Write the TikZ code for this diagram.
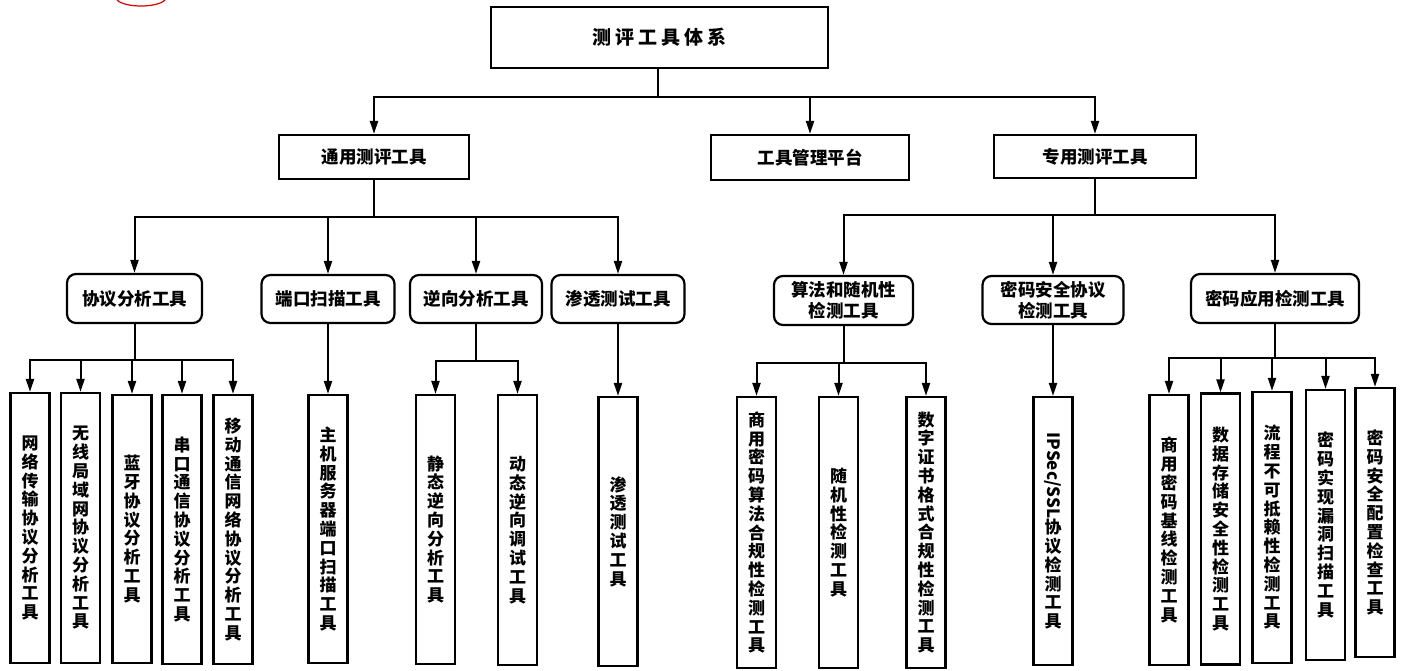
\documentclass[tikz,border=0pt]{standalone}
\usepackage{fontspec}
\usepackage{graphicx}
\newfontfamily\cjk{Noto Sans CJK SC}
\usetikzlibrary{arrows.meta}
\begin{document}
\begin{tikzpicture}[x=1pt,y=-1pt,
  box/.style={draw, line width=2.2pt, inner sep=0pt, font=\cjk\bfseries\fontsize{17.5}{21}\selectfont, align=center},
  rbox/.style={box, rounded corners=9pt},
  leaf/.style={draw, line width=2.2pt, inner sep=0pt, minimum width=39pt, font=\cjk\bfseries\fontsize{17}{18.8}\selectfont, align=center},
  arr/.style={-{Triangle[length=13pt,width=8pt]}, line width=2pt},
  ln/.style={line width=2pt}
]
\useasboundingbox (0,0) rectangle (1407,670);
\draw[red!85!black, line width=1.2pt] (117,0) .. controls (125,8) and (157,8) .. (165,0);

% level 0 and 1
\node[box, minimum width=337pt, minimum height=61pt, font=\cjk\bfseries\fontsize{19}{21}\selectfont] (root) at (659.5,37.5) {测\hspace{4pt}评\hspace{4pt}工\hspace{4pt}具\hspace{4pt}体\hspace{4pt}系};
\node[box, minimum width=190pt, minimum height=44pt] (gen) at (374,157) {通用测评工具};
\node[box, minimum width=198pt, minimum height=45pt] (mgmt) at (810,157.5) {工具管理平台};
\node[box, minimum width=202pt, minimum height=43pt] (spec) at (1095,156.5) {专用测评工具};

% level 2
\node[rbox, minimum width=135pt, minimum height=49pt] (proto) at (134.5,298.5) {协议分析工具};
\node[rbox, minimum width=133pt, minimum height=48pt] (port) at (328,299) {端口扫描工具};
\node[rbox, minimum width=132pt, minimum height=48pt] (rev) at (476,299) {逆向分析工具};
\node[rbox, minimum width=133pt, minimum height=48pt] (pen) at (618,299) {渗透测试工具};
\node[rbox, minimum width=139pt, minimum height=49pt] (alg) at (843.5,300.5) {算法和随机性\\检测工具};
\node[rbox, minimum width=141pt, minimum height=48pt] (csp) at (1053,300) {密码安全协议\\检测工具};
\node[rbox, minimum width=168pt, minimum height=49pt] (app) at (1275,298.5) {密码应用检测工具};

% level 3 leaves
\node[leaf, minimum height=270pt] (l1) at (30,528) {网\\络\\传\\输\\协\\议\\分\\析\\工\\具};
\node[leaf, minimum height=270pt] (l2) at (80.5,528) {无\\线\\局\\域\\网\\协\\议\\分\\析\\工\\具};
\node[leaf, minimum height=268pt] (l3) at (132,529) {蓝\\牙\\协\\议\\分\\析\\工\\具};
\node[leaf, minimum height=269pt] (l4) at (182,529.5) {串\\口\\通\\信\\协\\议\\分\\析\\工\\具};
\node[leaf, minimum height=269pt] (l5) at (233,529.5) {移\\动\\通\\信\\网\\络\\协\\议\\分\\析\\工\\具};
\node[leaf, minimum height=268pt] (l6) at (328,529) {主\\机\\服\\务\\器\\端\\口\\扫\\描\\工\\具};
\node[leaf, minimum height=269pt] (l7) at (435.5,529.5) {静\\态\\逆\\向\\分\\析\\工\\具};
\node[leaf, minimum height=270pt] (l8) at (517.5,530) {动\\态\\逆\\向\\调\\试\\工\\具};
\node[leaf, minimum height=269pt] (l9) at (618,531.5) {渗\\透\\测\\试\\工\\具};

\node[leaf, minimum height=271pt] (r1) at (756.5,532.5) {商\\用\\密\\码\\算\\法\\合\\规\\性\\检\\测\\工\\具};
\node[leaf, minimum height=271pt] (r2) at (838.5,532.5) {随\\机\\性\\检\\测\\工\\具};
\node[leaf, minimum height=271pt] (r3) at (926,532.5) {数\\字\\证\\书\\格\\式\\合\\规\\性\\检\\测\\工\\具};
\node[leaf, minimum height=268pt] (r4) at (1053,531) {\rotatebox{-90}{IPSec/SSL}\\协\\议\\检\\测\\工\\具};
\node[leaf, minimum height=270pt] (r5) at (1169,530) {商\\用\\密\\码\\基\\线\\检\\测\\工\\具};
\node[leaf, minimum height=271pt] (r6) at (1220.5,529) {数\\据\\存\\储\\安\\全\\性\\检\\测\\工\\具};
\node[leaf, minimum height=271pt] (r7) at (1272,527.5) {流\\程\\不\\可\\抵\\赖\\性\\检\\测\\工\\具};
\node[leaf, minimum height=270pt] (r8) at (1325.5,525) {密\\码\\实\\现\\漏\\洞\\扫\\描\\工\\具};
\node[leaf, minimum height=269pt] (r9) at (1375,522.5) {密\\码\\安\\全\\配\\置\\检\\查\\工\\具};

% junctions
\coordinate (j0) at (658,97);
\coordinate (jg) at (374,217);
\coordinate (js) at (1095,215);
\coordinate (jp) at (134.5,360);
\coordinate (jr) at (476,361);
\coordinate (ja) at (843.5,363);
\coordinate (jc) at (1275,358);

% connectors level 0 -> 1
\draw[ln] (root.south -| j0) -- (j0);
\draw[arr] (j0) -| (gen.north);
\draw[arr] (j0) -| (mgmt.north);
\draw[arr] (j0) -| (spec.north);

% level 1 -> 2
\draw[ln] (gen.south) -- (jg);
\foreach \n in {proto,port,rev,pen} \draw[arr] (jg) -| (\n.north);
\draw[ln] (spec.south) -- (js);
\foreach \n in {alg,csp,app} \draw[arr] (js) -| (\n.north);

% level 2 -> 3
\draw[ln] (proto.south) -- (jp);
\foreach \n in {l1,l2,l3,l4,l5} \draw[arr] (jp) -| (\n.north);
\draw[arr] (port.south) -- (l6.north);
\draw[ln] (rev.south) -- (jr);
\foreach \n in {l7,l8} \draw[arr] (jr) -| (\n.north);
\draw[arr] (pen.south) -- (l9.north);
\draw[ln] (alg.south) -- (ja);
\foreach \n in {r1,r2,r3} \draw[arr] (ja) -| (\n.north);
\draw[arr] (csp.south) -- (r4.north);
\draw[ln] (app.south) -- (jc);
\foreach \n in {r5,r6,r7,r8,r9} \draw[arr] (jc) -| (\n.north);
\end{tikzpicture}
\end{document}
